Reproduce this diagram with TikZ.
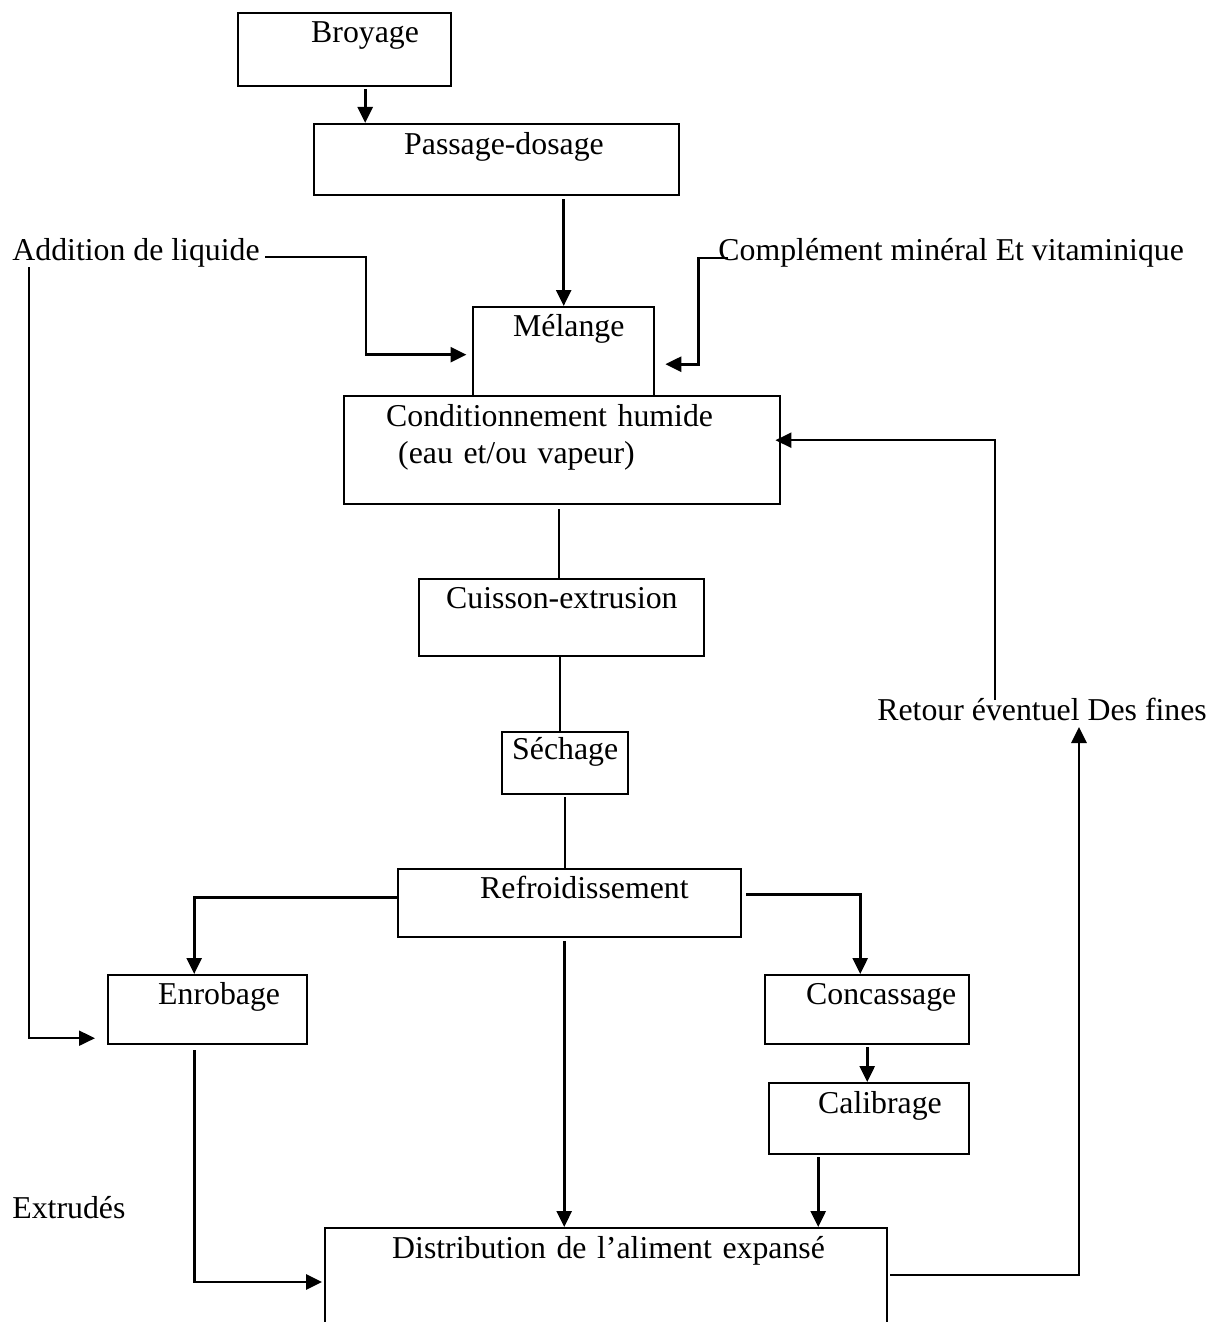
\documentclass[tikz,border=0pt]{standalone}
\usepackage{fontspec}
\setmainfont{Liberation Serif}
\usetikzlibrary{arrows.meta}
\tikzset{
 etape/.style={draw, line width=1.2pt, inner sep=0pt, align=left, anchor=north west},
 legende/.style={inner sep=0pt, anchor=base west},
 fleche/.style={line width=1.4pt, -{Triangle[length=8pt,width=7.5pt]}},
 lien/.style={line width=1.1pt}
}
\begin{document}
\begin{tikzpicture}[x=0.5pt, y=-0.5pt, font=\fontsize{15.9}{18.5}\selectfont]
 \useasboundingbox (0,0) rectangle (1218,1322);
 \clip (0,0) rectangle (1218,1322);
 %
 \node[etape, text width=106.5pt, text height=14.5pt, text depth=22pt] (broyage) at (237,12) {\hspace*{36.5pt}Broyage};
 \node[etape, text width=182.5pt, text height=15pt, text depth=20.5pt] (passage) at (313,123) {\hspace*{45pt}Passage-dosage};
 \node[etape, text width=90.5pt, text height=14.5pt, text depth=30pt] (melange) at (472,306) {\hspace*{20pt}Mélange};
 \node[etape, text width=218pt, text height=15pt, text depth=39pt] (cond) at (343,395) {\hspace*{21pt}Conditionnement humide\\\hspace*{27pt}(eau et/ou vapeur)};
 \node[etape, text width=142.5pt, text height=14.5pt, text depth=24pt] (cuisson) at (418,578) {\hspace*{13.5pt}Cuisson-extrusion};
 \node[etape, text width=63pt, text height=13.5pt, text depth=17.5pt] (sechage) at (501,731) {\hspace*{5pt}Séchage};
 \node[etape, text width=171.5pt, text height=14.5pt, text depth=19.5pt] (refroid) at (397,868) {\hspace*{41pt}Refroidissement};
 \node[etape, text width=99.5pt, text height=14.5pt, text depth=20pt] (enrobage) at (107,974) {\hspace*{25pt}Enrobage};
 \node[etape, text width=102pt, text height=14.5pt, text depth=20pt] (concassage) at (764,974) {\hspace*{20.5pt}Concassage};
 \node[etape, text width=100pt, text height=15pt, text depth=20.5pt] (calibrage) at (768,1082) {\hspace*{24.5pt}Calibrage};
 \node[etape, text width=281pt, text height=15pt, text depth=50pt] (distribution) at (324,1227) {\hspace*{33.5pt}Distribution de l’aliment expansé};
 %
 \node[legende] (addition) at (12,260) {Addition de liquide};
 \node[legende] (complement) at (718,260) {Complément minéral Et vitaminique};
 \node[legende] (retour) at (877,720) {Retour éventuel Des fines};
 \node[legende] (extrudes) at (12,1218) {Extrudés};
 %
 \draw[fleche] ([xshift=10.25pt,yshift=-1pt]broyage.south) -- ([xshift=10.25pt]broyage.south |- passage.north);
 \draw[fleche] ([yshift=-1.5pt]passage.south -| melange.north) -- (melange.north);
 \draw[fleche] ([xshift=2.5pt,yshift=1.5pt]addition.base east) -| ([xshift=-53pt,yshift=-1.5pt]melange.west) -- ([xshift=-2.75pt,yshift=-1.5pt]melange.west);
 \draw[fleche] ([xshift=5pt,yshift=1pt]complement.base west) -| ([xshift=21.5pt,yshift=-6.25pt]melange.east) -- ([xshift=5pt,yshift=-6.25pt]melange.east);
 %
 \draw[lien] ([xshift=-1.5pt,yshift=-2pt]cond.south -| cuisson.north) -- ([xshift=-1.5pt]cuisson.north);
 \draw[lien] ([xshift=-0.75pt]cuisson.south) -- ([xshift=-0.75pt]cuisson.south |- sechage.north);
 \draw[lien] ([yshift=-1pt]sechage.south) -- (sechage.south |- refroid.north);
 %
 \draw[fleche] ([yshift=3pt]refroid.west) -| ([xshift=-6.75pt]enrobage.north);
 \draw[fleche] ([xshift=2pt,yshift=4.5pt]refroid.east) -| ([xshift=-3.5pt]concassage.north);
 \draw[fleche] ([xshift=-2.75pt,yshift=-1.5pt]refroid.south) -- ([xshift=-2.75pt]refroid.south |- distribution.north);
 \draw[fleche] ([yshift=-1pt]concassage.south) -- (concassage.south |- calibrage.north);
 \draw[fleche] ([xshift=-25.5pt,yshift=-1pt]calibrage.south) -- ([xshift=-25.5pt]calibrage.south |- distribution.north);
 %
 \draw[fleche, line width=1pt] ([xshift=8.25pt,yshift=-3.5pt]addition.base west) |- ([xshift=-6pt,yshift=-14.25pt]enrobage.west);
 \draw[fleche] ([xshift=-6.75pt,yshift=-2.5pt]enrobage.south) |- ([xshift=-1pt,yshift=-27.5pt]distribution.north west);
 %
 \draw[fleche] ([xshift=1pt,yshift=-24pt]distribution.north east) -| ([xshift=101pt,yshift=-3.5pt]retour.base west);
 \draw[fleche, line width=1.1pt] ([xshift=59pt,yshift=10pt]retour.base west) |- ([xshift=-3pt,yshift=5pt]cond.east);
\end{tikzpicture}
\end{document}
